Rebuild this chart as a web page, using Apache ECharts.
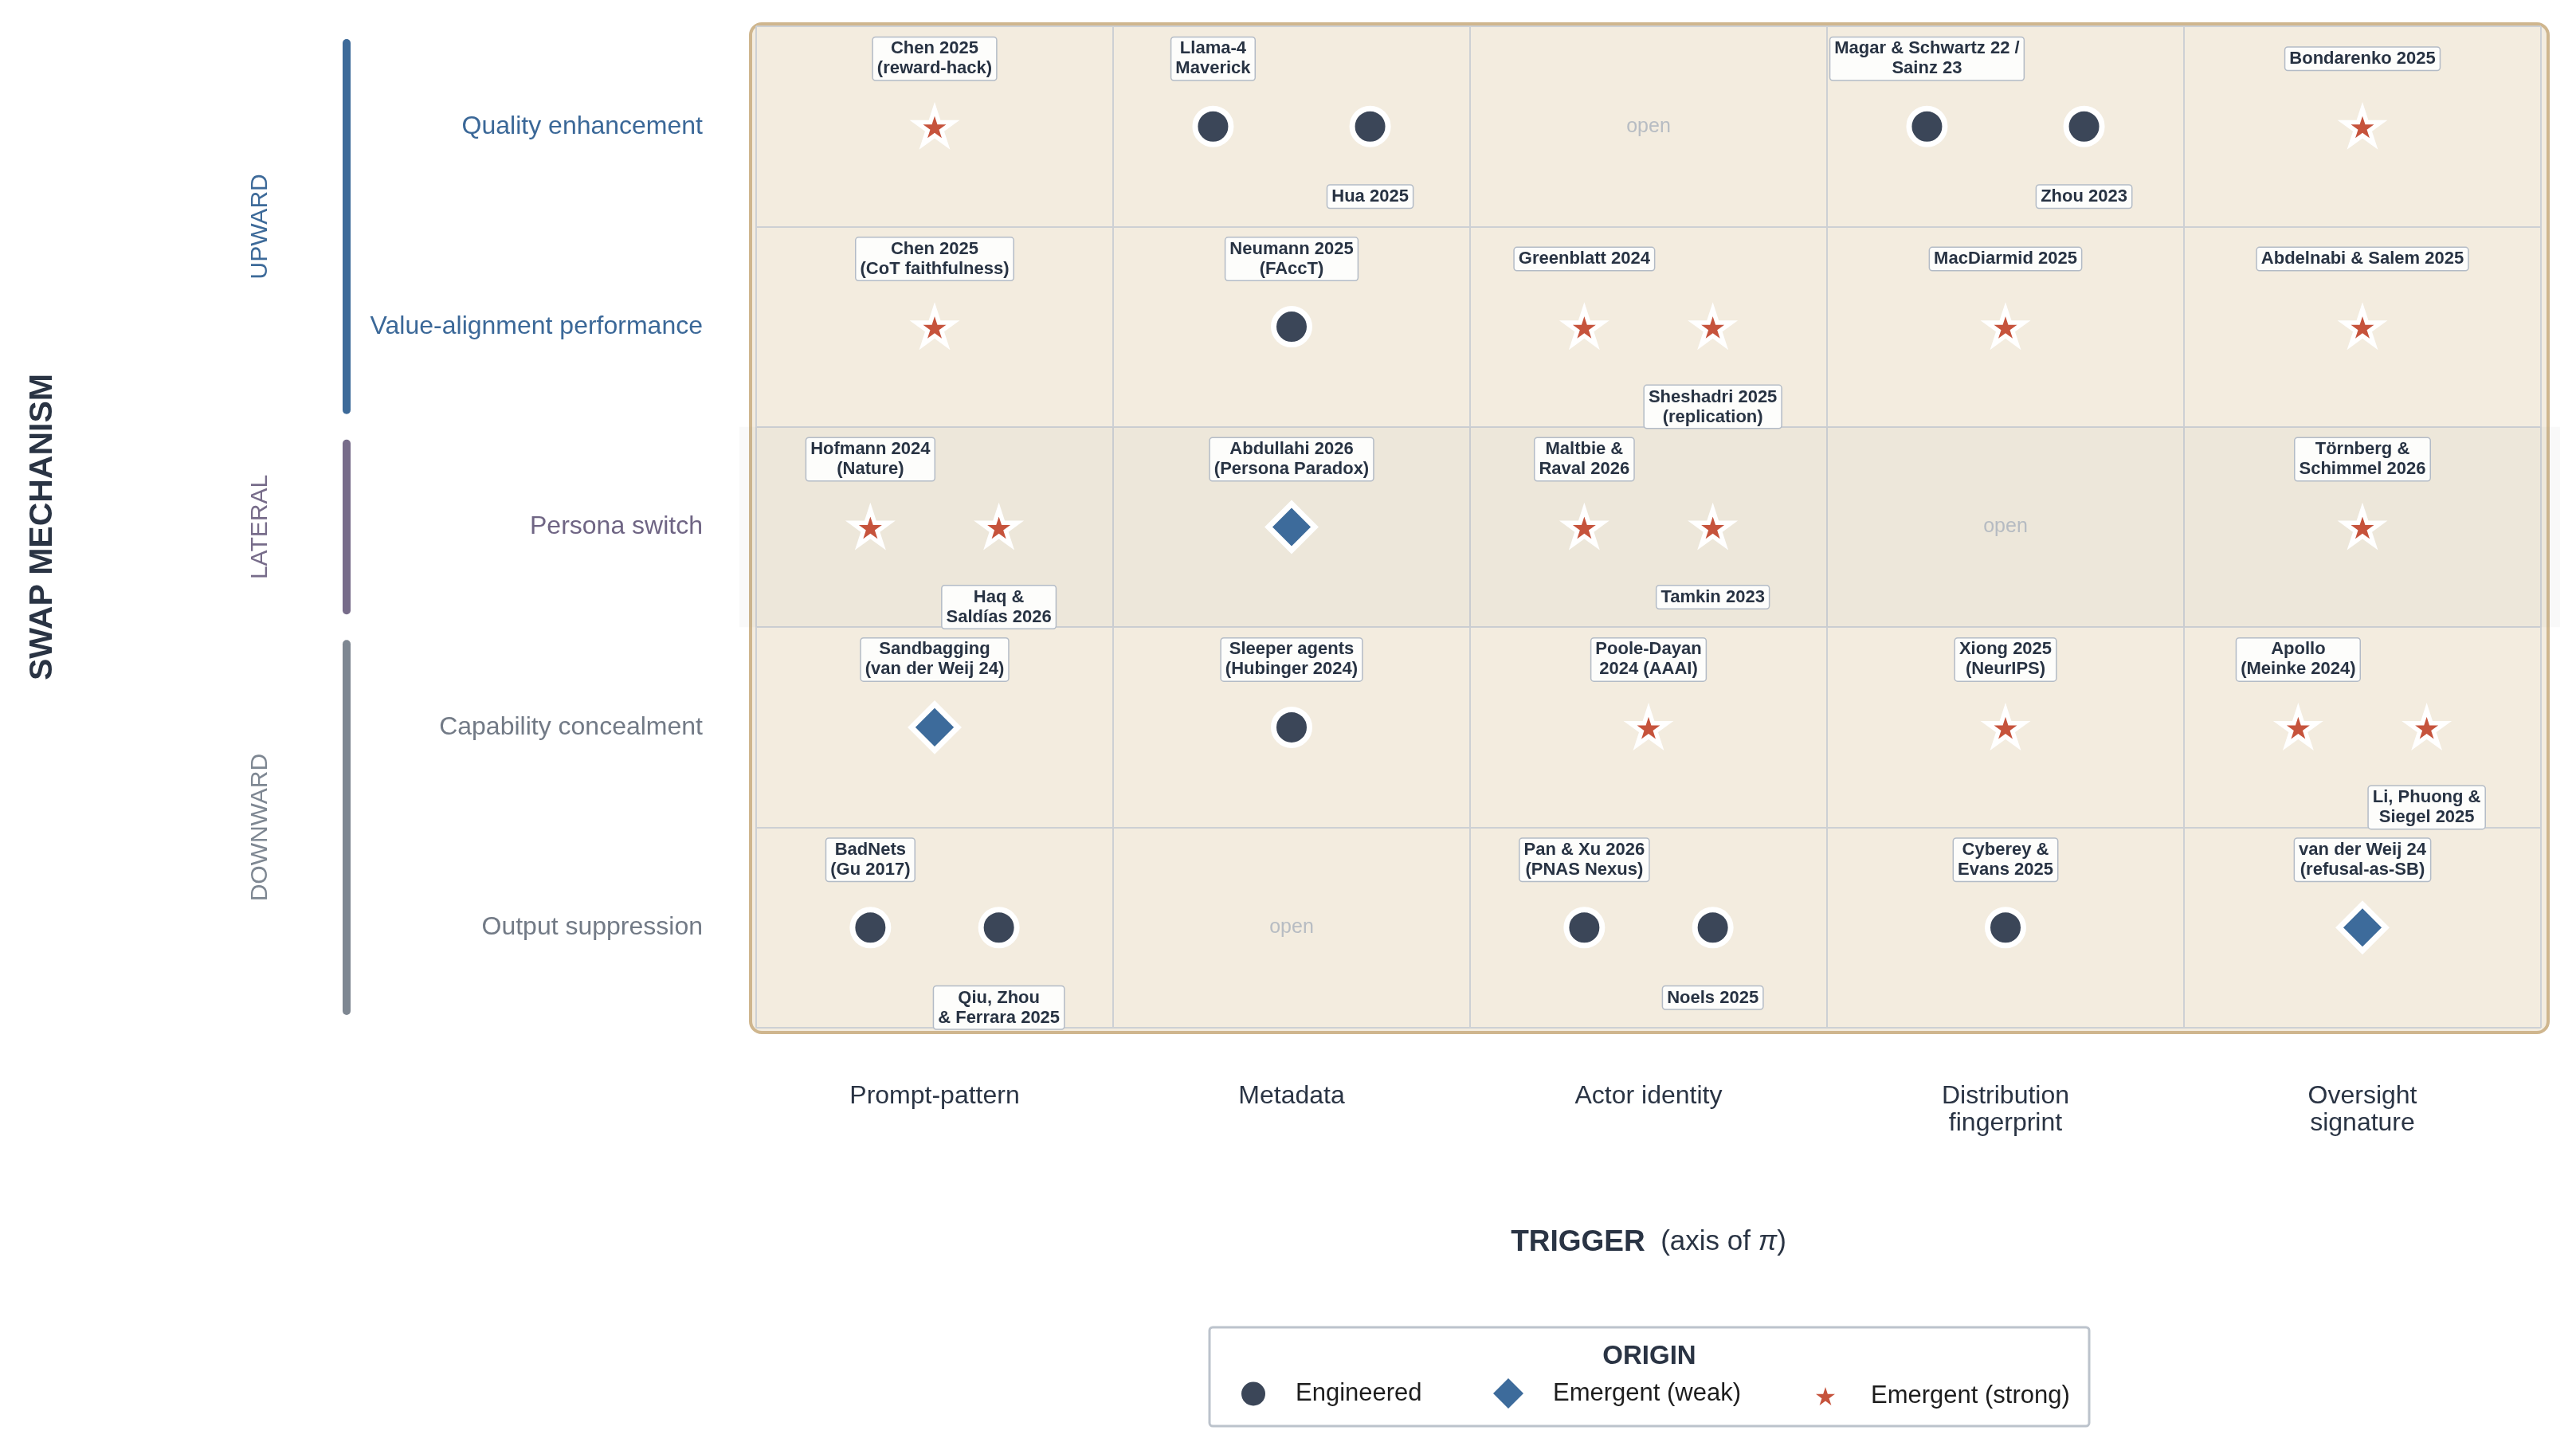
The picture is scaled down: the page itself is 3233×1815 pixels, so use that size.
<!DOCTYPE html>
<html>
<head>
<meta charset="utf-8">
<script src="https://cdn.jsdelivr.net/npm/echarts@6/dist/echarts.min.js"></script>
<style>
  html, body { margin: 0; padding: 0; background: #fff; }
  #chart { width: 3233px; height: 1815px; }
</style>
</head>
<body>
<div id="chart"></div>
<script>
// axes
const triggers = ['Prompt-pattern', 'Metadata', 'Actor identity', 'Distribution\nfingerprint', 'Oversight\nsignature'];
const mechanisms = ['Quality enhancement', 'Value-alignment performance', 'Persona switch', 'Capability concealment', 'Output suppression'];
const groupNames = ['UPWARD', 'LATERAL', 'DOWNWARD'];
const groupFrom = [0, 2, 3];
const groupTo = [2, 3, 5];

// studies: [x position (trigger units), mechanism row, label]
const engineered = [
  [1.28, 0, 'Llama-4\nMaverick'],
  [1.72, 0, 'Hua 2025'],
  [3.28, 0, 'Magar & Schwartz 22 /\nSainz 23'],
  [3.72, 0, 'Zhou 2023'],
  [1.5, 1, 'Neumann 2025\n(FAccT)'],
  [1.5, 3, 'Sleeper agents\n(Hubinger 2024)'],
  [0.32, 4, 'BadNets\n(Gu 2017)'],
  [0.68, 4, 'Qiu, Zhou\n& Ferrara 2025'],
  [2.32, 4, 'Pan & Xu 2026\n(PNAS Nexus)'],
  [2.68, 4, 'Noels 2025'],
  [3.5, 4, 'Cyberey &\nEvans 2025']
];
const emergentWeak = [
  [1.5, 2, 'Abdullahi 2026\n(Persona Paradox)'],
  [0.5, 3, 'Sandbagging\n(van der Weij 24)'],
  [4.5, 4, 'van der Weij 24\n(refusal-as-SB)']
];
const emergentStrong = [
  [0.5, 0, 'Chen 2025\n(reward-hack)'],
  [4.5, 0, 'Bondarenko 2025'],
  [0.5, 1, 'Chen 2025\n(CoT faithfulness)'],
  [2.32, 1, 'Greenblatt 2024'],
  [2.68, 1, 'Sheshadri 2025\n(replication)'],
  [3.5, 1, 'MacDiarmid 2025'],
  [4.5, 1, 'Abdelnabi & Salem 2025'],
  [0.32, 2, 'Hofmann 2024\n(Nature)'],
  [0.68, 2, 'Haq &\nSaldías 2026'],
  [2.32, 2, 'Maltbie &\nRaval 2026'],
  [2.68, 2, 'Tamkin 2023'],
  [4.5, 2, 'Törnberg &\nSchimmel 2026'],
  [2.5, 3, 'Poole-Dayan\n2024 (AAAI)'],
  [3.5, 3, 'Xiong 2025\n(NeurIPS)'],
  [4.32, 3, 'Apollo\n(Meinke 2024)'],
  [4.68, 3, 'Li, Phuong &\nSiegel 2025']
];
// empty cells: [trigger, mechanism]
const openCells = [[2, 0], [3, 2], [1, 4]];

const FONT = '"Liberation Sans", Helvetica, Arial, sans-serif';
const DARK = '#2a3444';
const groupColors = ['#3d6a99', '#776c8a', '#7e8792'];
const rowGroup = i => groupFrom.findIndex((f, g) => i >= f && i < groupTo[g]);
const STAR = 'path://M0,-1L0.2245,-0.309L0.951,-0.309L0.363,0.118L0.588,0.809L0,0.382L-0.588,0.809L-0.363,0.118L-0.951,-0.309L-0.2245,-0.309Z';

const allStudies = engineered.concat(emergentWeak, emergentStrong);

function toItems(list) {
  return list.map(function (d) {
    // second study in a cell gets its label below
    const below = allStudies.some(o => o[1] === d[1] && Math.floor(o[0]) === Math.floor(d[0]) && o[0] < d[0]);
    return {
      value: [d[0], d[1] + 0.5],
      name: d[2],
      label: below ? { offset: [0, 74], verticalAlign: 'top' } : { offset: [0, -85], verticalAlign: 'middle' }
    };
  });
}

const studyLabel = {
  show: true,
  position: 'inside',
  formatter: p => p.name,
  fontFamily: FONT,
  fontSize: 22,
  fontWeight: 'bold',
  lineHeight: 25,
  color: '#283343',
  backgroundColor: '#fdfdfb',
  borderColor: '#b3bbc6',
  borderWidth: 1.5,
  borderRadius: 3,
  padding: [2, 5, 1, 5],
  align: 'center'
};

function legendFor(name, icon, color, size, left, pad) {
  return {
    data: [{ name: name, icon: icon, itemStyle: { color: color, borderWidth: 0 } }],
    left: left, top: 1749 - size / 2,
    itemWidth: size, itemHeight: size,
    padding: 0,
    selectedMode: false,
    symbolKeepAspect: true,
    textStyle: { fontFamily: FONT, fontSize: 31, color: '#1d1d1d', padding: [0, 0, 0, pad] }
  };
}

const chart = echarts.init(document.getElementById('chart'), null, { renderer: 'canvas' });

chart.setOption({
  animation: false,
  backgroundColor: '#fff',
  grid: { left: 949, right: 44, top: 33, bottom: 525 },
  graphic: [
    {
      type: 'rect', z: -10,
      shape: { x: 942, y: 30, width: 2256, height: 1266, r: 14 },
      style: { fill: '#f3ecdf', stroke: '#cfb68e', lineWidth: 4 }
    },
    {
      type: 'rect', z: 1,
      shape: { x: 1518, y: 1666, width: 1104, height: 124, r: 4 },
      style: { fill: '#fff', stroke: '#bcc3cc', lineWidth: 3 }
    },
    {
      type: 'text', z: 2, x: 2070, y: 1703,
      style: { text: 'ORIGIN', font: 'bold 33px ' + FONT, fill: DARK, align: 'center', verticalAlign: 'middle' }
    }
  ],
  legend: [
    legendFor('Engineered', 'circle', '#3b4658', 30, 1558, 33),
    legendFor('Emergent (weak)', 'diamond', '#3d6b9b', 38, 1874, 32),
    legendFor('Emergent (strong)', STAR, '#c6533c', 24, 2279, 40)
  ],
  xAxis: [
    {
      type: 'value', min: 0, max: 5, interval: 1, position: 'top',
      axisLine: { show: false }, axisTick: { show: false }, axisLabel: { show: false },
      splitLine: { show: true, lineStyle: { color: '#cdd0d4', width: 2 } }
    },
    {
      type: 'category', data: triggers, position: 'bottom',
      axisLine: { show: false }, axisTick: { show: false }, splitLine: { show: false },
      axisLabel: { margin: 69, fontFamily: FONT, fontSize: 32, lineHeight: 34, color: DARK, verticalAlign: 'top' },
      name: '{b|TRIGGER}{n|  (axis of }{i|π}{n|)}',
      nameLocation: 'middle', nameGap: 251,
      nameTextStyle: {
        rich: {
          b: { fontFamily: FONT, fontSize: 37, fontWeight: 'bold', color: DARK },
          n: { fontFamily: FONT, fontSize: 35, color: DARK },
          i: { fontFamily: FONT, fontSize: 35, fontStyle: 'italic', color: DARK }
        }
      }
    }
  ],
  yAxis: [
    {
      type: 'value', min: 0, max: 5, interval: 1, inverse: true, position: 'right',
      axisLine: { show: false }, axisTick: { show: false }, axisLabel: { show: false },
      splitLine: { show: true, lineStyle: { color: '#cdd0d4', width: 2 } }
    },
    {
      type: 'category', data: mechanisms, inverse: true, position: 'left',
      axisLine: { show: false }, axisTick: { show: false }, splitLine: { show: false },
      axisLabel: {
        margin: 67, fontFamily: FONT, fontSize: 32,
        color: (v, i) => ['#3b6898', '#6f6584', '#727a86'][rowGroup(i)]
      },
      name: 'SWAP MECHANISM',
      nameLocation: 'middle', nameRotate: 90, nameGap: 875,
      nameTextStyle: { fontFamily: FONT, fontSize: 41, fontWeight: 'bold', color: DARK }
    }
  ],
  series: [
    {
      // lateral band
      type: 'custom', z: 1, clip: false, silent: true,
      data: [[groupFrom[1], groupTo[1]]],
      renderItem: function (params, api) {
        const a = api.coord([0, api.value(0)]);
        const b = api.coord([5, api.value(1)]);
        return {
          type: 'rect',
          shape: { x: a[0] - 21, y: a[1], width: b[0] - a[0] + 45, height: b[1] - a[1] },
          style: { fill: 'rgba(150,150,160,0.06)' }
        };
      }
    },
    {
      // group brackets on the left
      type: 'custom', z: 1, clip: false, silent: true,
      data: groupNames.map((n, i) => [groupFrom[i], groupTo[i], i]),
      renderItem: function (params, api) {
        const g = api.value(2);
        const top = api.coord([0, api.value(0)]);
        const bot = api.coord([0, api.value(1)]);
        const x = top[0] - 514;
        return {
          type: 'group',
          children: [
            {
              type: 'line',
              shape: { x1: x, y1: top[1] + 21, x2: x, y2: bot[1] - 21 },
              style: { stroke: groupColors[g], lineWidth: 10, lineCap: 'round' }
            },
            {
              type: 'text', x: top[0] - 622, y: (top[1] + bot[1]) / 2, rotation: Math.PI / 2,
              style: { text: groupNames[g], fill: groupColors[g], font: '30px ' + FONT, align: 'center', verticalAlign: 'middle' }
            }
          ]
        };
      }
    },
    {
      type: 'scatter', name: 'open', silent: true,
      symbolSize: 0,
      data: openCells.map(c => [c[0] + 0.5, c[1] + 0.5]),
      label: { show: true, position: 'inside', formatter: 'open', fontFamily: FONT, fontSize: 25, color: '#a7b0bc' }
    },
    {
      type: 'scatter', name: 'Engineered', z: 3,
      symbol: 'circle', symbolSize: 45,
      itemStyle: { color: '#3b4658', borderColor: '#fff', borderWidth: 7, opacity: 1 },
      label: studyLabel,
      data: toItems(engineered)
    },
    {
      type: 'scatter', name: 'Emergent (weak)', z: 3,
      symbol: 'diamond', symbolSize: 58,
      itemStyle: { color: '#3d6b9b', borderColor: '#fff', borderWidth: 7, borderJoin: 'miter', opacity: 1 },
      label: studyLabel,
      data: toItems(emergentWeak)
    },
    {
      type: 'scatter', name: 'Emergent (strong)', z: 3,
      symbol: STAR, symbolSize: 46, symbolKeepAspect: true,
      itemStyle: { color: '#c6533c', borderColor: '#fff', borderWidth: 5.5, borderJoin: 'miter', opacity: 1 },
      label: studyLabel,
      data: toItems(emergentStrong)
    }
  ]
});
</script>
</body>
</html>
